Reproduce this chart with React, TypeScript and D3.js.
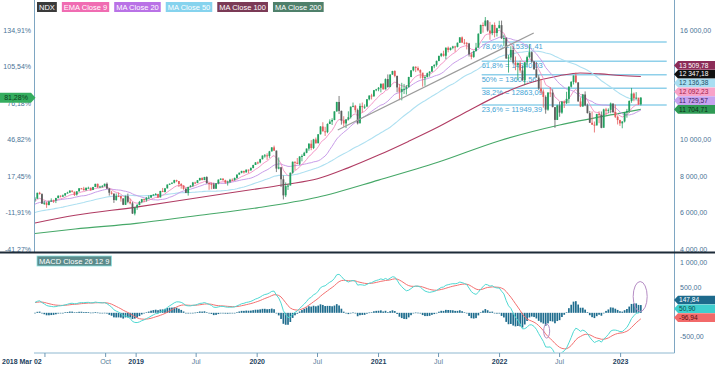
import React, { useEffect, useRef } from 'react';
import * as d3 from 'd3';

const width = 715;
const height = 368;
const font = '"Liberation Sans", Arial, sans-serif';

// weekly closes Mar 2017 - Feb 2018, only used to warm up the averages and the MACD
const priorCloses = [
  5400, 5390, 5370, 5440, 5420, 5350, 5430, 5580, 5640, 5690,
  5640, 5760, 5820, 5720, 5660, 5760, 5650, 5700, 5860, 5920,
  5900, 5920, 5810, 5760, 5810, 5920, 5910, 5980, 5960, 6000,
  6080, 6100, 6100, 6260, 6330, 6340, 6330, 6400, 6300, 6320,
  6450, 6460, 6400, 6610, 6720, 6830, 7020, 6740, 6330, 6690,
  6810,
];

// weekly candles, first week ending 2018-03-02
const firstWeek = '2018-03-02';
const closes = [
  // 2018
  6811.2, 7134, 7063, 6543, 6582, 6467, 6652, 6713, 6709, 6846, 6976, 6923, 6995, 7108, 7146, 7250, 7193, 7040, 7214, 7380,
  7357, 7283, 7409, 7411, 7292, 7453, 7625, 7431, 7477, 7498, 7627, 7364, 7138, 7086, 6738, 6960, 6955, 6821, 6477, 6950,
  6640, 6558, 5998, 6331,
  // 2019
  6463, 6634, 6787, 6732, 6864, 6873, 7006, 7034, 7069, 6880, 7236, 7180, 7378, 7585, 7633, 7687, 7827, 7781, 7617, 7534,
  7349, 7127, 7452, 7523, 7699, 7671, 7823, 7943, 7834, 7996, 7663, 7625, 7593, 7357, 7655, 7852, 7906, 7823, 7705, 7742,
  7849, 7832, 7948, 8131, 8230, 8334, 8252, 8403, 8373, 8488, 8658, 8799,
  // 2020
  8794, 8977, 9174, 9187, 9151, 9402, 9624, 9446, 8462, 8531, 7875, 6994, 7502, 7528, 8230, 8833, 8784, 8718, 9121, 9152,
  9325, 9556, 9824, 9588, 10056, 9849, 10341, 10768, 10503, 10461, 10906, 11040, 11122, 11595, 12111, 11622, 11088, 10936, 11152, 11276,
  11853, 11899, 11666, 10937, 11895, 11830, 11854, 12258, 12464, 12420, 12756, 12805,
  // 2021
  12888, 13105, 12804, 13366, 12925, 13612, 13807, 13535, 12909, 12668, 12820, 12830, 12928, 13480, 13845, 14041, 13970, 13860, 13720, 13430,
  13472, 13687, 13774, 14069, 14141, 14361, 14639, 14754, 14643, 15083, 14960, 15077, 15151, 15129, 15355, 15652, 15364, 15334, 15315, 14720,
  14580, 14897, 15090, 15850, 16330, 16290, 16573, 16026, 15880, 16331, 15890, 16153, 16320,
  // 2022
  15600, 15612, 14493, 14551, 14960, 14270, 14142, 14233, 13838, 13301, 14281, 14570, 14838, 14330, 13900, 13452, 12855, 12680, 12387, 11691,
  12630, 12621, 11830, 11128, 11921, 11528, 12125, 12042, 12280, 12947, 13208, 13560, 13183, 12141, 11863, 12520, 11928, 11503, 10971, 10870,
  10820, 11450, 11400, 10694, 11702, 11631, 11679, 12030, 11560, 11300, 11120, 10939,
  // 2023
  11041, 11541, 11620, 12166, 12573, 12305, 12350, 11982, 12347.18,
];
const highs = [
  6900, 7140, 7190, 7110, 6700, 6640, 6710, 6830, 6760, 6860, 6990, 6990, 7040, 7120, 7190, 7280, 7270, 7200, 7220, 7390,
  7400, 7460, 7420, 7470, 7420, 7460, 7630, 7640, 7520, 7560, 7640, 7700, 7400, 7240, 7100, 7100, 7150, 6960, 6840, 6980,
  7090, 6810, 6640, 6340,
  6520, 6690, 6800, 6810, 6900, 6990, 7020, 7070, 7120, 7080, 7240, 7400, 7400, 7590, 7640, 7700, 7850, 7850, 7740, 7660,
  7540, 7400, 7470, 7550, 7730, 7740, 7830, 7960, 7990, 8010, 8040, 7690, 7690, 7690, 7660, 7870, 7930, 7940, 7850, 7800,
  7900, 7920, 7970, 8140, 8250, 8340, 8340, 8410, 8410, 8530, 8670, 8810,
  8850, 9000, 9180, 9260, 9300, 9430, 9630, 9720, 9450, 9070, 8550, 8080, 7700, 7630, 8250, 8850, 8850, 9040, 9140, 9240,
  9380, 9560, 9850, 10020, 10090, 10160, 10350, 10780, 11000, 10750, 10940, 11160, 11220, 11600, 12120, 12440, 11640, 11330, 11180, 11600,
  11860, 12080, 11950, 11750, 12030, 12080, 11980, 12270, 12470, 12560, 12770, 12830,
  12930, 13130, 13150, 13400, 13620, 13630, 13820, 13850, 13560, 13100, 13160, 13100, 13040, 13490, 13850, 14060, 14060, 14060, 13900, 13680,
  13560, 13720, 13800, 14080, 14180, 14380, 14640, 14800, 14920, 15100, 15150, 15100, 15190, 15190, 15370, 15660, 15700, 15560, 15400, 15350,
  14840, 14930, 15350, 15870, 16350, 16470, 16765, 16600, 16500, 16360, 16470, 16180, 16560,
  16570, 15800, 15660, 14680, 15170, 15160, 14600, 14280, 14380, 14080, 14300, 14650, 15270, 14880, 14350, 14300, 13580, 13370, 12800, 12470,
  12640, 12920, 12810, 11830, 11960, 12120, 12170, 12200, 12670, 12970, 13260, 13560, 13720, 13180, 12360, 12550, 12690, 12020, 11620, 11590,
  11040, 11460, 11600, 11590, 11740, 11790, 11760, 12080, 12010, 11970, 11370, 11140,
  11060, 11560, 11730, 12200, 12880, 12630, 12650, 12270, 12380,
];
const lows = [
  6640, 6800, 7040, 6520, 6470, 6310, 6440, 6650, 6580, 6570, 6830, 6880, 6910, 6950, 7100, 7130, 7160, 6960, 6980, 7200,
  7330, 7250, 7240, 7380, 7240, 7290, 7450, 7400, 7410, 7430, 7480, 7340, 6980, 7040, 6580, 6700, 6900, 6650, 6460, 6470,
  6560, 6500, 5980, 5900,
  6200, 6450, 6560, 6620, 6650, 6810, 6860, 6990, 7000, 6860, 6890, 7170, 7150, 7370, 7560, 7610, 7650, 7720, 7450, 7360,
  7300, 7120, 6980, 7430, 7450, 7610, 7660, 7790, 7820, 7830, 7640, 7300, 7330, 7340, 7360, 7600, 7830, 7810, 7630, 7530,
  7670, 7800, 7800, 7900, 8130, 8200, 8190, 8250, 8210, 8330, 8480, 8660,
  8700, 8750, 8960, 9060, 8940, 9050, 9400, 9430, 8270, 8420, 7450, 6770, 6900, 7290, 7700, 8180, 8390, 8700, 8640, 8860,
  9200, 9300, 9440, 9470, 9530, 9830, 9850, 10330, 10500, 10250, 10400, 10900, 10850, 11110, 11580, 11450, 10870, 10750, 10680, 11100,
  11200, 11820, 11530, 10880, 11040, 11530, 11730, 11880, 12200, 12250, 12400, 12700,
  12700, 12640, 12790, 12800, 12900, 12950, 13600, 13460, 12640, 12210, 12200, 12550, 12520, 12900, 13470, 13790, 13750, 13800, 13400, 12950,
  13000, 13460, 13500, 13760, 13960, 14050, 14340, 14570, 14600, 14450, 14830, 14930, 15000, 14860, 15100, 15350, 15350, 15260, 14990, 14600,
  14450, 14530, 14880, 15080, 15840, 15910, 16250, 15960, 15520, 15770, 15650, 15700, 16150,
  15560, 15170, 14480, 13720, 14400, 14230, 13850, 13320, 13710, 13270, 13050, 14100, 14500, 14250, 13880, 13440, 12770, 12560, 11800, 11470,
  11630, 12380, 11820, 10690, 11120, 11300, 11460, 11780, 12000, 12040, 12900, 13070, 13140, 12130, 11830, 11850, 11880, 11480, 10960, 10850,
  10440, 10850, 10950, 10670, 10770, 11400, 11500, 11490, 11500, 11230, 10880, 10800,
  10670, 10990, 11250, 11510, 12070, 12150, 12240, 11950, 11920,
];

// slow averages
const ma100Dates = ['2018-03-02', '2018-07-01', '2019-01-01', '2019-07-01', '2020-01-01', '2020-04-01', '2020-07-01', '2020-10-01', '2021-01-01', '2021-04-01', '2021-07-01', '2021-10-01', '2022-01-01', '2022-04-01', '2022-07-01', '2022-09-01', '2022-11-01', '2023-01-01', '2023-03-03'];
const ma100Values = [5480, 5900, 6350, 6850, 7350, 7600, 7900, 8500, 9200, 9950, 10750, 11650, 12500, 13150, 13550, 13700, 13650, 13560, 13509.78];
const ma200Dates = ['2018-03-02', '2018-07-01', '2019-01-01', '2019-07-01', '2020-01-01', '2020-07-01', '2021-01-01', '2021-07-01', '2022-01-01', '2022-07-01', '2023-01-01', '2023-03-03'];
const ma200Values = [4900, 5150, 5460, 5880, 6310, 6890, 7830, 8820, 9990, 10850, 11500, 11704.71];

// fibonacci retracement
const fibLow = 10472.45;
const fibHigh = 16730.67;
const fibRatios = [0.236, 0.382, 0.5, 0.618, 0.786];
const fibNames = ['23,6%', '38,2%', '50%', '61,8%', '78,6%'];
const fibFrom = '2021-11-08';
const fibTo = '2023-05-20';

// hand drawn trendline
const trendDates = ['2020-08-31', '2022-04-14'];
const trendValues = [10575, 15890];

const legendNames = ['NDX', 'EMA Close 9', 'MA Close 20', 'MA Close 50', 'MA Close 100', 'MA Close 200'];
const tagNames = ['MA Close 100', 'NDX', 'MA Close 50', 'EMA Close 9', 'MA Close 20', 'MA Close 200'];
const tagValues = [13509.78, 12347.18, 12136.38, 12092.23, 11729.57, 11704.71];
const macdTagNames = ['Histogram', 'MACD', 'Signal'];
const macdTagValues = [147.84, 50.9, -96.94];

const priceTicks = [4000, 6000, 8000, 10000, 12000, 14000, 16000];
const macdTicks = [-500, 0, 500, 1000];
const timeTicks = ['2018-04-01', '2018-10-01', '2019-01-01', '2019-07-01', '2020-01-01', '2020-07-01', '2021-01-01', '2021-07-01', '2022-01-01', '2022-07-01', '2023-01-01'];
const timeTickLabels = ['', 'Oct', '2019', 'Jul', '2020', 'Jul', '2021', 'Jul', '2022', 'Jul', '2023'];

// circled spots on the MACD panel
const noteDates = ['2022-05-23', '2023-03-01'];
const noteValues = [-370, 330];
const noteSizes = [[3, 7], [7, 15]];

const boxColor: Record<string, string> = {
  'NDX': '#3a3a3a',
  'EMA Close 9': '#f06cb2',
  'MA Close 20': '#b972e6',
  'MA Close 50': '#86d3ee',
  'MA Close 100': '#7b3a56',
  'MA Close 200': '#4f806b',
};
const lineColor: Record<string, string> = {
  'EMA Close 9': '#f38cc2',
  'MA Close 20': '#c99de9',
  'MA Close 50': '#aee0f1',
  'MA Close 100': '#b03c63',
  'MA Close 200': '#46a868',
};
const tagStyle: Record<string, [string, string]> = {
  'MA Close 100': ['#8c2c58', '#ffffff'],
  'NDX': ['#111111', '#ffffff'],
  'MA Close 50': ['#a9def2', '#1d4f66'],
  'EMA Close 9': ['#f8a3c8', '#a0204a'],
  'MA Close 20': ['#c6a3ef', '#3b1d66'],
  'MA Close 200': ['#2f9a55', '#0d2f17'],
  'Histogram': ['#1d6a8c', '#ffffff'],
  'MACD': ['#3fcfcf', '#0d4a4a'],
  'Signal': ['#f26a6a', '#5a0f0f'],
};

const App = () => {
  const ref = useRef<SVGSVGElement>(null);

  useEffect(() => {
    const svg = d3.select(ref.current);
    svg.selectAll('*').remove();
    const parse = d3.timeParse('%Y-%m-%d');
    const loc = d3.formatLocale({ decimal: ',', thousands: ' ', grouping: [3], currency: ['', ''], minus: '-' } as any);
    const money = loc.format(',.2f');
    const plain = loc.format('.2f');

    // derived series
    const start = parse(firstWeek)!;
    const dates = closes.map((_, i) => d3.timeDay.offset(start, 7 * i));
    const opens = closes.map((c, i) => (i === 0 ? priorCloses[priorCloses.length - 1] : closes[i - 1]));
    const all = priorCloses.concat(closes);
    const skip = priorCloses.length;
    const ema = (vals: number[], n: number) => {
      const k = 2 / (n + 1);
      let e = vals[0];
      return vals.map((v, i) => (e = i === 0 ? v : v * k + e * (1 - k)));
    };
    const sma = (n: number) => closes.map((_, i) => d3.mean(all.slice(skip + i - n + 1, skip + i + 1)) as number);
    const ema9 = ema(all, 9).slice(skip);
    const ma20 = sma(20);
    const ma50 = sma(50);
    const e12 = ema(all, 12);
    const e26 = ema(all, 26);
    const macdAll = e12.map((v, i) => v - e26[i]);
    const signalAll = ema(macdAll, 9);
    const macd = macdAll.slice(skip);
    const signal = signalAll.slice(skip);
    const hist = macd.map((v, i) => v - signal[i]);

    // scales
    const x = d3.scaleTime().domain([parse('2018-02-27')!, parse('2023-06-11')!]).range([34, 674]);
    const y = d3.scaleLinear().domain([4000, 16000]).range([250, 31]);
    const ym = d3.scaleLinear().domain([-800, 1200]).range([352.3, 253.6]);

    // value tags, stacked upward so they don't overlap
    const gap = 8.8;
    const stack = (vals: number[], scale: (v: number) => number) => {
      const order = d3.range(vals.length).sort((a, b) => vals[a] - vals[b]);
      const out: number[] = [];
      let prev = Infinity;
      order.forEach((i) => {
        const yy = Math.min(scale(vals[i]), prev - gap);
        out[i] = yy;
        prev = yy;
      });
      return out;
    };
    const tagY = stack(tagValues, y);
    const macdY = stack(macdTagValues, ym);
    const underTag = (ty: number, ys: number[]) => ys.some((t) => Math.abs(t - ty) < 6.5);

    svg.append('rect').attr('width', width).attr('height', height).attr('fill', '#fff');
    const defs = svg.append('defs');
    defs.append('clipPath').attr('id', 'mainClip').append('rect').attr('x', 34).attr('y', 0).attr('width', 640).attr('height', 252);
    defs.append('clipPath').attr('id', 'macdClip').append('rect').attr('x', 34).attr('y', 253.5).attr('width', 640).attr('height', 99);

    const axisColor = '#4a7396';
    const text = (g: any, tx: number, ty: number, s: string, size = 7, fill = axisColor, anchor = 'start') =>
      g.append('text').attr('x', tx).attr('y', ty).attr('font-family', font).attr('font-size', size)
        .attr('fill', fill).attr('text-anchor', anchor).attr('dominant-baseline', 'middle').text(s);

    // price axes: percent on the left, index level on the right (right labels hidden under the tags)
    const base = closes[0];
    priceTicks.forEach((p) => {
      text(svg, 31, y(p), `${plain((p / base - 1) * 100)}%`, 7, axisColor, 'end');
      if (!underTag(y(p), tagY)) text(svg, 680, y(p), money(p));
    });
    macdTicks.forEach((v) => {
      if (!underTag(ym(v), macdY)) text(svg, 680, ym(v), money(v));
    });

    // main panel
    const main = svg.append('g').attr('clip-path', 'url(#mainClip)');
    const fibX0 = x(parse(fibFrom)!);
    const fibX1 = x(parse(fibTo)!);
    fibRatios.forEach((r, i) => {
      const v = fibLow + r * (fibHigh - fibLow);
      main.append('line').attr('x1', fibX0).attr('x2', fibX1).attr('y1', y(v)).attr('y2', y(v))
        .attr('stroke', '#8fd0ea').attr('stroke-width', 1.5);
      text(main, fibX0, y(v) + 5, `${fibNames[i]} = ${plain(v)}`, 7.5, '#3fa3d4');
    });

    const priceLine = (vals: number[]) => d3.line<number>().x((_, i) => x(dates[i])).y((v) => y(v))(vals);
    const readLine = (ds: string[], vs: number[]) =>
      d3.line<number>().x((_, i) => x(parse(ds[i])!)).y((v) => y(v)).curve(d3.curveMonotoneX)(vs);

    main.append('path').attr('d', readLine(ma200Dates, ma200Values)).attr('fill', 'none').attr('stroke', lineColor['MA Close 200']).attr('stroke-width', 1.1);
    main.append('path').attr('d', readLine(ma100Dates, ma100Values)).attr('fill', 'none').attr('stroke', lineColor['MA Close 100']).attr('stroke-width', 1.1);
    main.append('path').attr('d', priceLine(ma50)).attr('fill', 'none').attr('stroke', lineColor['MA Close 50']).attr('stroke-width', 1.1);
    main.append('path').attr('d', priceLine(ma20)).attr('fill', 'none').attr('stroke', lineColor['MA Close 20']).attr('stroke-width', 1);
    main.append('path').attr('d', priceLine(ema9)).attr('fill', 'none').attr('stroke', lineColor['EMA Close 9']).attr('stroke-width', 0.9);

    // candles
    const candles = main.append('g');
    closes.forEach((c, i) => {
      const o = opens[i];
      const cx = x(dates[i]);
      let col = '#22a060';
      if (c < o) col = (o - c) / o > 0.03 ? '#5e5e5e' : '#e45c5c';
      candles.append('line').attr('x1', cx).attr('x2', cx).attr('y1', y(highs[i])).attr('y2', y(lows[i]))
        .attr('stroke', col).attr('stroke-width', 0.8);
      const top = y(Math.max(o, c));
      const h = Math.max(1, y(Math.min(o, c)) - top);
      candles.append('rect').attr('x', cx - 0.9).attr('y', top).attr('width', 1.8).attr('height', h).attr('fill', col);
    });

    main.append('line')
      .attr('x1', x(parse(trendDates[0])!)).attr('y1', y(trendValues[0]))
      .attr('x2', x(parse(trendDates[1])!)).attr('y2', y(trendValues[1]))
      .attr('stroke', '#9c9c9c').attr('stroke-width', 1.2);

    // legend
    let lx = 37;
    legendNames.forEach((name) => {
      const g = svg.append('g');
      const t = g.append('text').attr('x', lx + 2).attr('y', 10).attr('font-family', font).attr('font-size', 7.5)
        .attr('fill', '#fff').text(name);
      const w = (t.node() as SVGTextElement).getComputedTextLength();
      g.insert('rect', 'text').attr('x', lx).attr('y', 2).attr('width', w + 4).attr('height', 10).attr('fill', boxColor[name]);
      lx += w + 9;
    });

    // frame
    svg.append('line').attr('x1', 34.5).attr('x2', 34.5).attr('y1', 0).attr('y2', 252).attr('stroke', '#7ea6c2');
    svg.append('line').attr('x1', 674.5).attr('x2', 674.5).attr('y1', 0).attr('y2', 353).attr('stroke', '#7ea6c2');
    svg.append('line').attr('x1', 0).attr('x2', width).attr('y1', 252.5).attr('y2', 252.5).attr('stroke', '#1d2b38').attr('stroke-width', 2);
    svg.append('line').attr('x1', 34).attr('x2', 674.5).attr('y1', 353).attr('y2', 353).attr('stroke', '#8fb8d0');

    const rightTag = (yc: number, name: string, label: string) => {
      const [bg, fg] = tagStyle[name];
      svg.append('path').attr('d', `M674,${yc} L678,${yc - 4.3} L715,${yc - 4.3} L715,${yc + 4.3} L678,${yc + 4.3} Z`).attr('fill', bg);
      text(svg, 679, yc + 0.5, label, 6.6, fg);
    };
    tagNames.forEach((n, i) => rightTag(tagY[i], n, money(tagValues[i])));

    const last = closes[closes.length - 1];
    const py = y(last);
    svg.append('path').attr('d', `M0,${py - 5} L31,${py - 5} L35.5,${py} L31,${py + 5} L0,${py + 5} Z`).attr('fill', '#35ad5f');
    text(svg, 16, py + 0.5, `${plain((last / base - 1) * 100)}%`, 7, '#0b3d1d', 'middle');

    // MACD panel
    const mp = svg.append('g').attr('clip-path', 'url(#macdClip)');
    hist.forEach((v, i) => {
      const cx = x(dates[i]);
      mp.append('rect').attr('x', cx - 0.85).attr('width', 1.7)
        .attr('y', Math.min(ym(v), ym(0))).attr('height', Math.max(0.6, Math.abs(ym(v) - ym(0))))
        .attr('fill', '#1f6d8e');
    });
    const mline = d3.line<number>().x((_, i) => x(dates[i])).y((v) => ym(v));
    mp.append('path').attr('d', mline(signal)).attr('fill', 'none').attr('stroke', '#f37070').attr('stroke-width', 1);
    mp.append('path').attr('d', mline(macd)).attr('fill', 'none').attr('stroke', '#4fd8d2').attr('stroke-width', 1);
    noteDates.forEach((d, i) => {
      mp.append('ellipse').attr('cx', x(parse(d)!)).attr('cy', ym(noteValues[i]))
        .attr('rx', noteSizes[i][0]).attr('ry', noteSizes[i][1])
        .attr('fill', 'none').attr('stroke', '#b58cc4').attr('stroke-width', 1);
    });

    const mg = svg.append('g');
    const mt = mg.append('text').attr('x', 39).attr('y', 264).attr('font-family', font).attr('font-size', 7.5)
      .attr('fill', '#fff').text('MACD Close 26 12 9');
    const mw = (mt.node() as SVGTextElement).getComputedTextLength();
    mg.insert('rect', 'text').attr('x', 37).attr('y', 256).attr('width', mw + 4).attr('height', 10)
      .attr('fill', '#5b8b8b').attr('stroke', '#8fe3e3').attr('stroke-width', 0.8);

    macdTagNames.forEach((n, i) => rightTag(macdY[i], n, money(macdTagValues[i])));

    // time axis
    text(svg, 2, 362, '2018 Mar 02', 7, '#1e3f5e').attr('font-weight', 'bold');
    timeTicks.forEach((d, i) => {
      const tx = x(parse(d)!);
      svg.append('line').attr('x1', tx).attr('x2', tx).attr('y1', 353).attr('y2', 357).attr('stroke', '#6f98b4');
      const lab = timeTickLabels[i];
      if (!lab) return;
      const isYear = /^\d{4}$/.test(lab);
      const t = text(svg, tx, 362, lab, 7, isYear ? '#1e3f5e' : '#5a7d9a', 'middle');
      if (isYear) t.attr('font-weight', 'bold');
    });
  }, []);

  return (
    <svg ref={ref} width={width} height={height} style={{ position: 'absolute', left: 0, top: 0 }} />
  );
};

export default App;
